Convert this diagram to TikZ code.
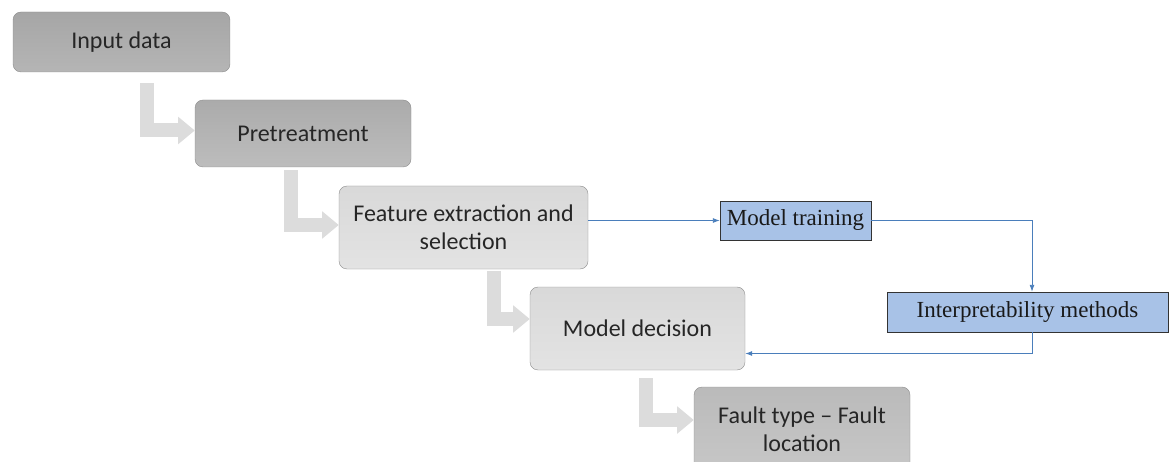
\documentclass[tikz,border=0pt]{standalone}
\usepackage{fontspec}
\setsansfont{Carlito}
\newfontfamily\blockserif{Liberation Serif}
\usetikzlibrary{arrows.meta,calc}

\definecolor{stepgray}{HTML}{DCDCDC}
\definecolor{linkblue}{HTML}{4A7EBB}
\definecolor{methodblue}{HTML}{A8C2E7}

\begin{document}
\begin{tikzpicture}[x=1pt, y=-1pt, stage/.style={rectangle, rounded corners=8pt, draw=black!45, inner sep=0pt, align=center, text=black!85, font=\sffamily\fontsize{24}{28}\selectfont}, method/.style={rectangle, draw=black!80, fill=methodblue, inner sep=0pt, text=black!90, font=\blockserif\fontsize{23}{27}\selectfont}, flow/.style={draw=stepgray, line width=14pt, -{Triangle[length=0pt 1.2, width=0pt 1.9]}}, link/.style={draw=linkblue, line width=0.9pt, -{Latex[length=7pt, width=5pt]}}]

  \useasboundingbox (0,0) rectangle (1169,462);
  \clip (0,0) rectangle (1169,462);

  % pipeline stages
  \node[stage, minimum width=217pt, minimum height=60pt, top color=black!35, bottom color=black!29] (input) at (121.5,42) {Input data};
  \node[stage, minimum width=216pt, minimum height=67pt, top color=black!33, bottom color=black!26] (pre) at (303,133.5) {Pretreatment};
  \node[stage, minimum width=249pt, minimum height=83pt, top color=black!15, bottom color=black!11] (feat) at (463.5,227.5) {Feature extraction and\\selection};
  \node[stage, minimum width=215pt, minimum height=83pt, top color=black!15, bottom color=black!11] (dec) at (637.5,328.5) {Model decision};
  \node[stage, minimum width=216pt, minimum height=84pt, top color=black!27, bottom color=black!22] (fault) at (802,429) {Fault type – Fault\\location};

  % side branch
  \node[method, minimum width=151pt, minimum height=39pt] (train) at (795.5,220.5) {Model training};
  \node[method, minimum width=281pt, minimum height=40pt] (interp) at (1027.5,312) {Interpretability methods};

  % bent step arrows
  \coordinate (bend1) at ($(pre.west)+(-48,-3)$);
  \coordinate (bend2) at ($(feat.west)+(-47.5,-2.5)$);
  \coordinate (bend3) at ($(dec.west)+(-36,-9.5)$);
  \coordinate (bend4) at ($(fault.west)+(-47.5,-9)$);
  \draw[flow] ($(bend1 |- input.south)+(0,11)$) |- (bend1 -| pre.west);
  \draw[flow] ($(bend2 |- pre.south)+(0,3)$) |- (bend2 -| feat.west);
  \draw[flow] ($(bend3 |- feat.south)+(0,2)$) |- (bend3 -| dec.west);
  \draw[flow] ($(bend4 |- dec.south)+(0,8)$) |- (bend4 -| fault.west);

  \draw[link] (feat.east |- train.west) -- (train.west);
  \draw[link] (train.east) -| ([xshift=4.5pt]interp.north);
  \draw[link] ([xshift=4.5pt]interp.south) |- ([yshift=-25pt]dec.east);
\end{tikzpicture}
\end{document}
